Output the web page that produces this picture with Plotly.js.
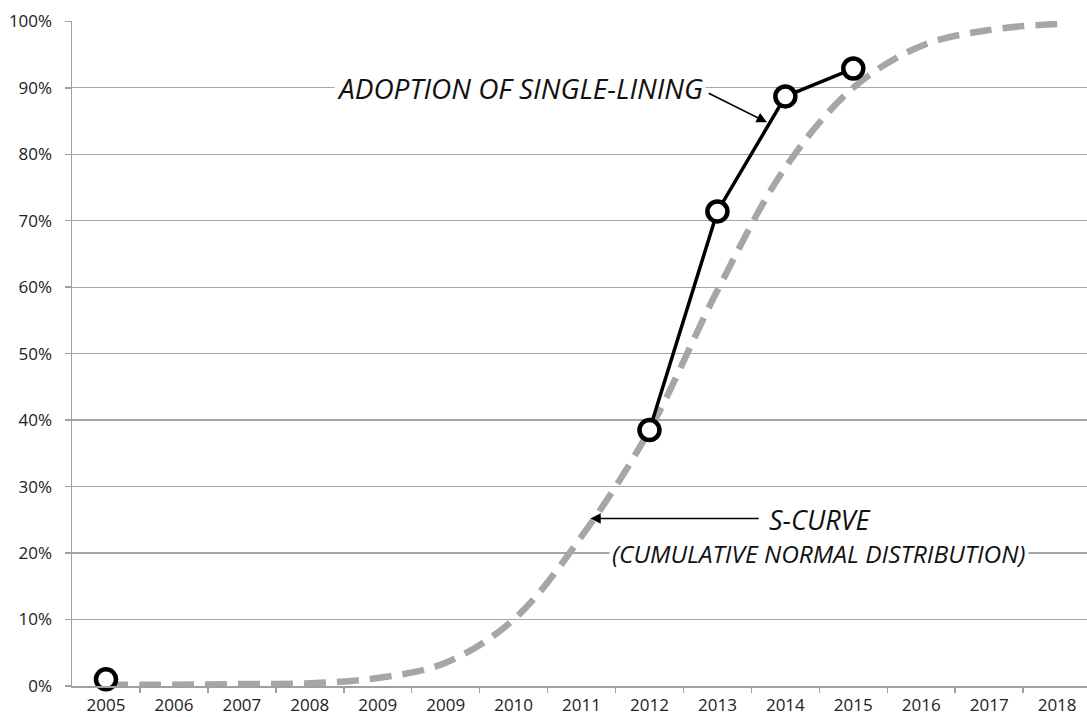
<!DOCTYPE html>
<html>
<head>
<meta charset="utf-8">
<script src="https://cdn.plot.ly/plotly-3.0.1.min.js"></script>
<style>html,body{margin:0;padding:0;overflow:hidden;background:#fff}</style>
</head>
<body>
<div id="chart" style="width:1087px;height:717px"></div>
<script>
// Tick labels (category positions 0..14) — note the reference repeats "2009"
var yearLabels = ['2005','2006','2007','2008','2009','2009','2010','2011','2012','2013','2014','2015','2016','2017','2018'];
var positions = [0,1,2,3,4,5,6,7,8,9,10,11,12,13,14];

// S-curve (cumulative normal distribution)
var sCurve = [0.002,0.002,0.003,0.004,0.012,0.035,0.10,0.225,0.385,0.595,0.78,0.90,0.963,0.987,0.996];

// Adoption of single-lining (null = no data, gap in line)
var adoption = [0.01,null,null,null,null,null,null,null,0.385,0.714,0.887,0.929,null,null,null];

var boundaries = [];
for (var i = 0; i < positions.length - 1; i++) boundaries.push(positions[i] + 0.5);

var fontFam = '"Open Sans", "Noto Sans", sans-serif';

var traces = [
  {
    x: positions, y: sCurve, type: 'scatter', mode: 'lines',
    line: {color: '#a6a6a6', width: 6.5, dash: '22px,11px', shape: 'spline', smoothing: 1},
    hoverinfo: 'skip', showlegend: false, cliponaxis: false
  },
  {
    x: positions, y: adoption, type: 'scatter', mode: 'lines+markers',
    connectgaps: false,
    line: {color: '#000', width: 3.5},
    marker: {symbol: 'circle', size: 20, color: '#fff', line: {color: '#000', width: 4.5}},
    showlegend: false, cliponaxis: false
  }
];

var layout = {
  width: 1087, height: 717,
  margin: {l: 72, r: 0, t: 21, b: 31},
  paper_bgcolor: '#fff', plot_bgcolor: '#fff',
  showlegend: false,
  xaxis: {
    range: [-0.5, 14.44],
    tickmode: 'array', tickvals: positions, ticktext: yearLabels,
    ticks: '', showgrid: false, zeroline: false,
    showline: true, linecolor: '#a0a0a0', linewidth: 1.5,
    tickfont: {family: fontFam, size: 17, color: '#222'},
    ticklabelstandoff: 3,
    minor: {tickmode: 'array', tickvals: boundaries, ticks: 'outside', ticklen: 5, tickcolor: '#a0a0a0', tickwidth: 1.5, showgrid: false},
    fixedrange: true
  },
  yaxis: {
    range: [0, 1.0005],
    tickmode: 'array', tickvals: [0,0.1,0.2,0.3,0.4,0.5,0.6,0.7,0.8,0.9,1.0],
    tickformat: '.0%',
    ticks: 'outside', ticklen: 6, tickcolor: '#a0a0a0', tickwidth: 1.5,
    showgrid: true, gridcolor: '#a6a6a6', gridwidth: 1.3,
    zeroline: false, showline: true, linecolor: '#a0a0a0', linewidth: 1.5,
    tickfont: {family: fontFam, size: 17, color: '#222'},
    ticklabelstandoff: 9,
    fixedrange: true
  },
  annotations: [
    {x: 6.1, y: 0.9, xref: 'x', yref: 'y', text: 'ADOPTION OF SINGLE-LINING', showarrow: false,
     font: {family: fontFam, size: 28, color: '#111', style: 'italic'}, bgcolor: '#fff', borderpad: 2, xanchor: 'center', yanchor: 'middle'},
    {x: 9.73, y: 0.848, ax: 8.85, ay: 0.893, xref: 'x', yref: 'y', axref: 'x', ayref: 'y',
     text: '', showarrow: true, arrowhead: 2, arrowsize: 1.3, arrowwidth: 1.6, arrowcolor: '#000'},
    {x: 10.51, y: 0.25, xref: 'x', yref: 'y', text: 'S-CURVE', showarrow: false,
     font: {family: fontFam, size: 27, color: '#111', style: 'italic'}, xanchor: 'center', yanchor: 'middle'},
    {x: 7.13, y: 0.252, ax: 9.63, ay: 0.252, xref: 'x', yref: 'y', axref: 'x', ayref: 'y',
     text: '', showarrow: true, arrowhead: 2, arrowsize: 1.3, arrowwidth: 1.6, arrowcolor: '#000'},
    {x: 10.5, y: 0.2, xref: 'x', yref: 'y', text: '(CUMULATIVE NORMAL DISTRIBUTION)', showarrow: false,
     font: {family: fontFam, size: 24.5, color: '#111', style: 'italic'}, bgcolor: '#fff', borderpad: 2, xanchor: 'center', yanchor: 'middle'}
  ]
};

Plotly.newPlot('chart', traces, layout, {displayModeBar: false, staticPlot: true});
</script>
</body>
</html>
